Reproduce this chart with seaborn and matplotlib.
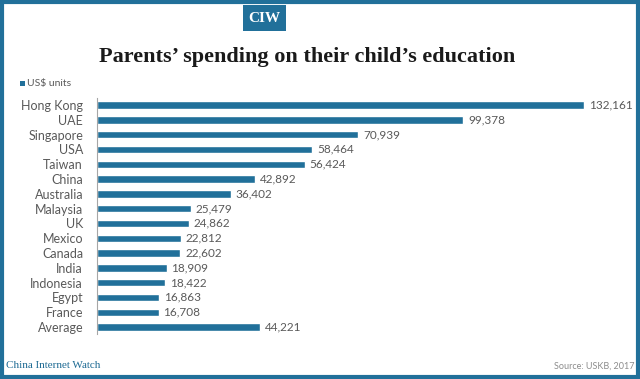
import pandas as pd
import matplotlib.pyplot as plt
import seaborn as sns
from matplotlib.patches import Rectangle

countries = ["Hong Kong", "UAE", "Singapore", "USA", "Taiwan", "China", "Australia",
             "Malaysia", "UK", "Mexico", "Canada", "India", "Indonesia", "Egypt",
             "France", "Average"]
spending = [132161, 99378, 70939, 58464, 56424, 42892, 36402,
            25479, 24862, 22812, 22602, 18909, 18422, 16863, 16708, 44221]

df = pd.DataFrame({"country": countries, "spending": spending})

blue = "#21709a"
grey = "#595959"

sns.set_style("white")
plt.rcParams["font.family"] = ["Lato", "DejaVu Sans"]

fig = plt.figure(figsize=(6.4, 3.79), dpi=100)
ax = fig.add_axes([97 / 640, 1 - 334.4 / 379, 523 / 640, (334.4 - 97.6) / 379])

sns.barplot(data=df, x="spending", y="country", orient="h", color=blue,
            width=0.5, saturation=1, ax=ax)

ax.set_xlim(0, 141930)
ax.set_xlabel("")
ax.set_ylabel("")
ax.set_xticks([])
for s in ["top", "right", "bottom"]:
    ax.spines[s].set_visible(False)
ax.spines["left"].set_color("#a6a6a6")
ax.spines["left"].set_linewidth(0.8)
ax.tick_params(axis="y", length=0, labelsize=9, labelcolor=grey, pad=10)
ax.set_yticks([i + 0.5 for i in range(-1, len(countries))], minor=True)
ax.tick_params(axis="y", which="minor", length=3, color="#a6a6a6", width=0.8)

for i, v in enumerate(spending):
    ax.text(v + 1300, i, f"{v:,}", va="center", ha="left", fontsize=8.5, color=grey)

# frame and header
fig.patches.append(Rectangle((0.003, 0.005), 0.994, 0.99, transform=fig.transFigure,
                             fill=False, edgecolor=blue, linewidth=3))
fig.patches.append(Rectangle((243 / 640, 1 - 31 / 379), 43 / 640, 26 / 379,
                             transform=fig.transFigure, facecolor=blue, edgecolor="none"))
fig.text(264.5 / 640, 1 - 18 / 379, "CIW", ha="center", va="center", color="white",
         fontsize=11, fontweight="bold", family="Liberation Serif")
fig.text(307 / 640, 1 - 57 / 379, "Parents\u2019 spending on their child\u2019s education",
         ha="center", va="center", fontsize=16, fontweight="bold",
         family="Liberation Serif", color="#1a1a1a")

fig.patches.append(Rectangle((20 / 640, 1 - 86 / 379), 5 / 640, 5 / 379,
                             transform=fig.transFigure, facecolor=blue, edgecolor="none"))
fig.text(27 / 640, 1 - 83.5 / 379, "US$ units", ha="left", va="center",
         fontsize=7.5, color=grey)

fig.text(6 / 640, 1 - 366 / 379, "China Internet Watch", ha="left", va="center",
         fontsize=8, color="#1d6a93", family="Liberation Serif")
fig.text(634 / 640, 1 - 366 / 379, "Source: USKB, 2017", ha="right", va="center",
         fontsize=6.5, color="#8c8c8c")

fig.savefig("out.png", dpi=100, facecolor="white")
